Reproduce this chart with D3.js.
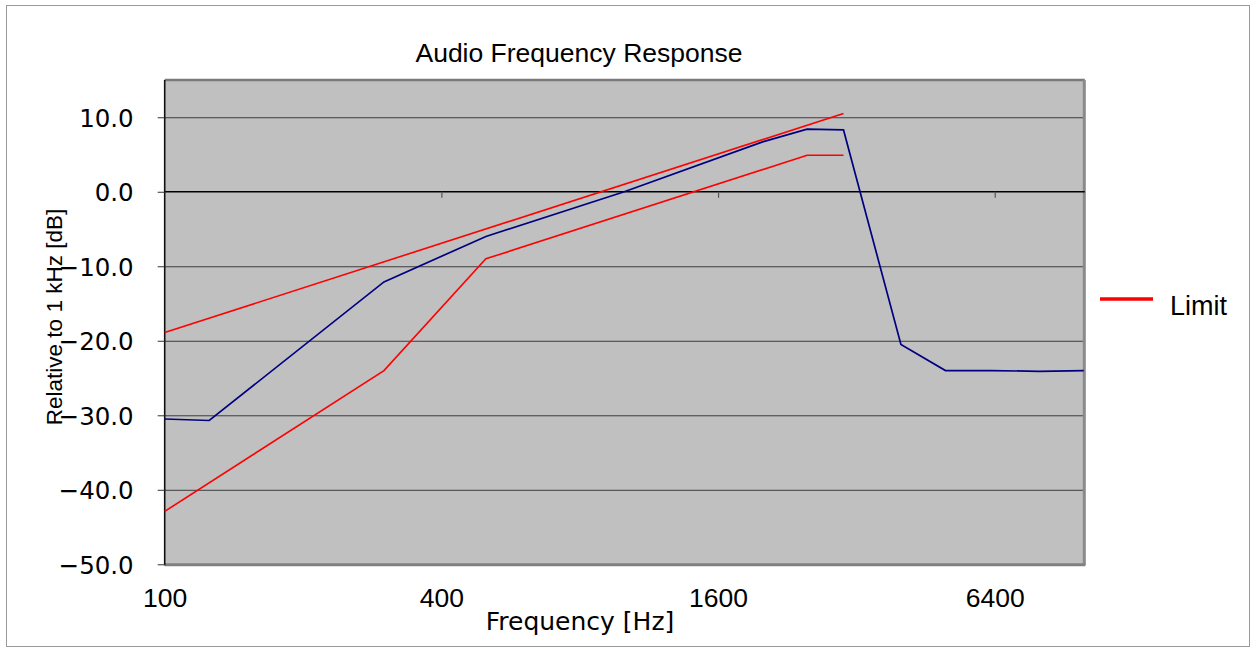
<!DOCTYPE html>
<html>
<head>
<meta charset="utf-8">
<script src="https://cdn.jsdelivr.net/npm/d3@7/dist/d3.min.js"></script>
<style>
  html, body { margin: 0; padding: 0; background: #fff; }
  svg { display: block; }
</style>
</head>
<body>
<svg id="chart" width="1257" height="653"></svg>
<script>
// Measured response, relative to 1 kHz
const responseFreq = [100, 125, 300, 500, 1000, 2000, 2500, 3000, 4000, 5000, 6300, 8000, 10000];
const responseDb   = [-30.5, -30.7, -12.1, -6.0, 0.0, 6.7, 8.4, 8.3, -20.5, -24.0, -24.0, -24.1, -24.0];

// Tolerance mask: upper and lower limit lines
const upperFreq = [100, 3000];
const upperDb   = [-18.9, 10.5];
const lowerFreq = [100, 300, 500, 2500, 3000];
const lowerDb   = [-42.9, -24.0, -9.0, 4.9, 4.9];

// Axis ticks
const xTicks = [100, 400, 1600, 6400];
const yTicks = [-50, -40, -30, -20, -10, 0, 10];

const svg = d3.select("#chart");

const plot = { left: 164.7, right: 1083.8, top: 80, bottom: 564.3 };

const x = d3.scaleLog().domain([100, 10000]).range([plot.left, plot.right]);
const y = d3.scaleLinear().domain([-50, 15]).range([plot.bottom, plot.top]);

// Outer chart frame
svg.append("rect")
  .attr("x", 6.5).attr("y", 5.5)
  .attr("width", 1243).attr("height", 641)
  .attr("fill", "#fff").attr("stroke", "#9a9a9a").attr("stroke-width", 1);

// Plot area
svg.append("rect")
  .attr("x", plot.left).attr("y", plot.top)
  .attr("width", plot.right - plot.left).attr("height", plot.bottom - plot.top)
  .attr("fill", "#c0c0c0");

// Horizontal gridlines
svg.append("g")
  .attr("transform", `translate(${plot.left},0)`)
  .call(d3.axisLeft(y).tickValues(yTicks.filter(v => v !== 0 && v !== -50))
        .tickSize(-(plot.right - plot.left)).tickFormat(""))
  .call(g => g.select(".domain").remove())
  .call(g => g.selectAll("line").attr("stroke", "#3c3c3c").attr("stroke-width", 1));

// Plot border (gray, with heavier right/bottom edges)
svg.append("line").attr("x1", plot.left).attr("x2", plot.right + 1)
  .attr("y1", plot.top).attr("y2", plot.top)
  .attr("stroke", "#7a7a7a").attr("stroke-width", 2.5);
svg.append("line").attr("x1", plot.right + 0.5).attr("x2", plot.right + 0.5)
  .attr("y1", plot.top).attr("y2", plot.bottom + 1)
  .attr("stroke", "#8a8a8a").attr("stroke-width", 3);
svg.append("line").attr("x1", plot.left).attr("x2", plot.right + 1.5)
  .attr("y1", plot.bottom + 0.5).attr("y2", plot.bottom + 0.5)
  .attr("stroke", "#808080").attr("stroke-width", 3);

// X axis crossing at 0 dB
svg.append("g")
  .attr("transform", `translate(0,${y(0)})`)
  .call(d3.axisBottom(x).tickValues(xTicks.filter(v => v !== 100)).tickSize(6).tickFormat(""))
  .call(g => g.select(".domain").attr("stroke", "#000").attr("stroke-width", 1.3)
        .attr("d", `M${plot.left},0H${plot.right + 1}`))
  .call(g => g.selectAll(".tick line").attr("stroke", "#555").attr("stroke-width", 1.2));

// Y axis with labels
svg.append("g")
  .attr("transform", `translate(${plot.left},0)`)
  .call(d3.axisLeft(y).tickValues(yTicks).tickSize(7).tickPadding(24).tickFormat(d3.format(".1f")))
  .call(g => g.select(".domain").attr("stroke", "#111").attr("stroke-width", 1.6)
        .attr("d", `M0,${plot.top}V${plot.bottom + 1}`))
  .call(g => g.selectAll(".tick line").attr("stroke", "#333").attr("stroke-width", 1))
  .call(g => g.selectAll(".tick text")
        .attr("font-family", "'DejaVu Sans', sans-serif")
        .attr("font-size", 24.5)
        .attr("fill", "#000")
        .attr("dy", "0.36em"));

// X tick labels along the bottom
svg.append("g")
  .attr("transform", `translate(0,${plot.bottom})`)
  .call(d3.axisBottom(x).tickValues(xTicks).tickSize(0).tickPadding(0).tickFormat(d3.format("d")))
  .call(g => g.select(".domain").remove())
  .call(g => g.selectAll(".tick text")
        .attr("font-family", "'Liberation Sans', Arial, sans-serif")
        .attr("font-size", 26.5)
        .attr("fill", "#000")
        .attr("y", 0).attr("dy", 0)
        .attr("transform", "translate(0,43)"));

// Series
const line = d3.line().x(d => x(d[0])).y(d => y(d[1]));
const seriesData = [
  { pts: d3.zip(upperFreq, upperDb), color: "#ff0000", w: 1.6 },
  { pts: d3.zip(lowerFreq, lowerDb), color: "#ff0000", w: 1.6 },
  { pts: d3.zip(responseFreq, responseDb), color: "#000080", w: 1.7 }
];
svg.append("g").selectAll("path").data(seriesData).join("path")
  .attr("d", d => line(d.pts))
  .attr("fill", "none")
  .attr("stroke", d => d.color)
  .attr("stroke-width", d => d.w)
  .attr("stroke-linejoin", "miter");

// Title
svg.append("text")
  .attr("x", 579).attr("y", 62)
  .attr("text-anchor", "middle")
  .attr("font-family", "'Liberation Sans', Arial, sans-serif")
  .attr("font-size", 26.5)
  .text("Audio Frequency Response");

// Axis titles
svg.append("text")
  .attr("x", 580).attr("y", 630)
  .attr("text-anchor", "middle")
  .attr("font-family", "'DejaVu Sans', sans-serif")
  .attr("font-size", 25)
  .text("Frequency [Hz]");

svg.append("text")
  .attr("transform", "translate(61.5,317) rotate(-90)")
  .attr("text-anchor", "middle")
  .attr("font-family", "'Liberation Sans', Arial, sans-serif")
  .attr("font-size", 22.5)
  .text("Relative to 1 kHz [dB]");

// Legend
const legend = svg.append("g").attr("transform", "translate(1100,299)");
legend.append("line").attr("x1", 0).attr("x2", 53).attr("y1", 0).attr("y2", 0)
  .attr("stroke", "#ff0000").attr("stroke-width", 3.5);
legend.append("text").attr("x", 70).attr("y", 16)
  .attr("font-family", "'Liberation Sans', Arial, sans-serif")
  .attr("font-size", 27)
  .text("Limit");
</script>
</body>
</html>
